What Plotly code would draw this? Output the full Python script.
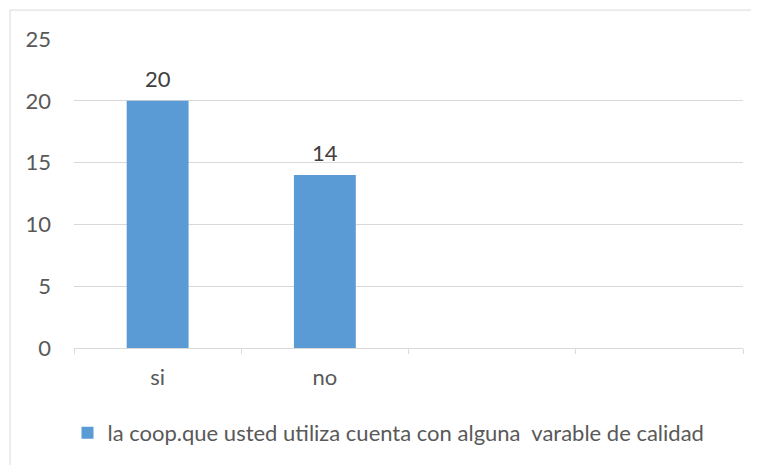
import plotly.graph_objects as go

categories = ["si", "no"]
all_slots = ["si", "no", " ", "  "]
values = [20, 14]
series_name = "la coop.que usted utiliza cuenta con alguna  varable de calidad"

FONT = "Lato"
FS = 22
TXT = "#595959"
GRID = "#d9d9d9"
BAR = "#5B9BD5"

fig = go.Figure()
fig.add_trace(go.Bar(
    x=categories, y=values, name=series_name,
    marker=dict(color=BAR, line=dict(width=0)),
    width=0.37, showlegend=True,
))

for c, v in zip(categories, values):
    fig.add_annotation(x=c, y=v, text=str(v), showarrow=False,
                       yanchor="bottom", yshift=7,
                       font=dict(family=FONT, size=FS, color="#404040"))

# page offset of 8px (body margin) compensated
OFF = 8
W, H = 759 - OFF, 465 - OFF
PL, PR, PT, PB = 74, 743, 39, 349  # plot area in page pixels
L, R, T, B = PL - OFF, (OFF + W) - PR, PT - OFF, (OFF + H) - PB
pw, ph = PR - PL, PB - PT
fig.add_shape(type="rect", xref="paper", yref="paper",
              x0=(10 - PL) / pw, x1=(800 - PL) / pw,
              y0=(PB - 500) / ph, y1=(PB - 10) / ph,
              line=dict(color=GRID, width=1), fillcolor="rgba(0,0,0,0)", layer="below")

fig.update_layout(
    width=W, height=H,
    margin=dict(l=L, r=R, t=T, b=B, pad=0),
    paper_bgcolor="white", plot_bgcolor="white",
    font=dict(family=FONT, size=FS, color=TXT),
    bargap=0.63,
    xaxis=dict(
        type="category", categoryorder="array", categoryarray=all_slots,
        range=[-0.5, 3.5], tickson="boundaries", ticks="outside",
        ticklen=5, tickcolor=GRID, tickwidth=1,
        showline=True, linecolor=GRID, linewidth=1,
        showgrid=False, fixedrange=True,
        ticklabelstandoff=10,
        tickfont=dict(family=FONT, size=FS, color=TXT),
        automargin=False,
    ),
    yaxis=dict(
        range=[0, 25], tickvals=[0, 5, 10, 15, 20, 25],
        showgrid=True, gridcolor=GRID, gridwidth=1,
        zeroline=False, showline=False, ticks="",
        ticklabelstandoff=22,
        tickfont=dict(family=FONT, size=FS, color=TXT),
        automargin=False,
    ),
    legend=dict(orientation="h", x=0.5 - 20 / pw, xanchor="center",
                y=-(433 - PB) / ph, yanchor="middle",
                font=dict(family=FONT, size=FS, color=TXT),
                itemwidth=30, itemsizing="constant"),
)

fig.write_html("out.html")
